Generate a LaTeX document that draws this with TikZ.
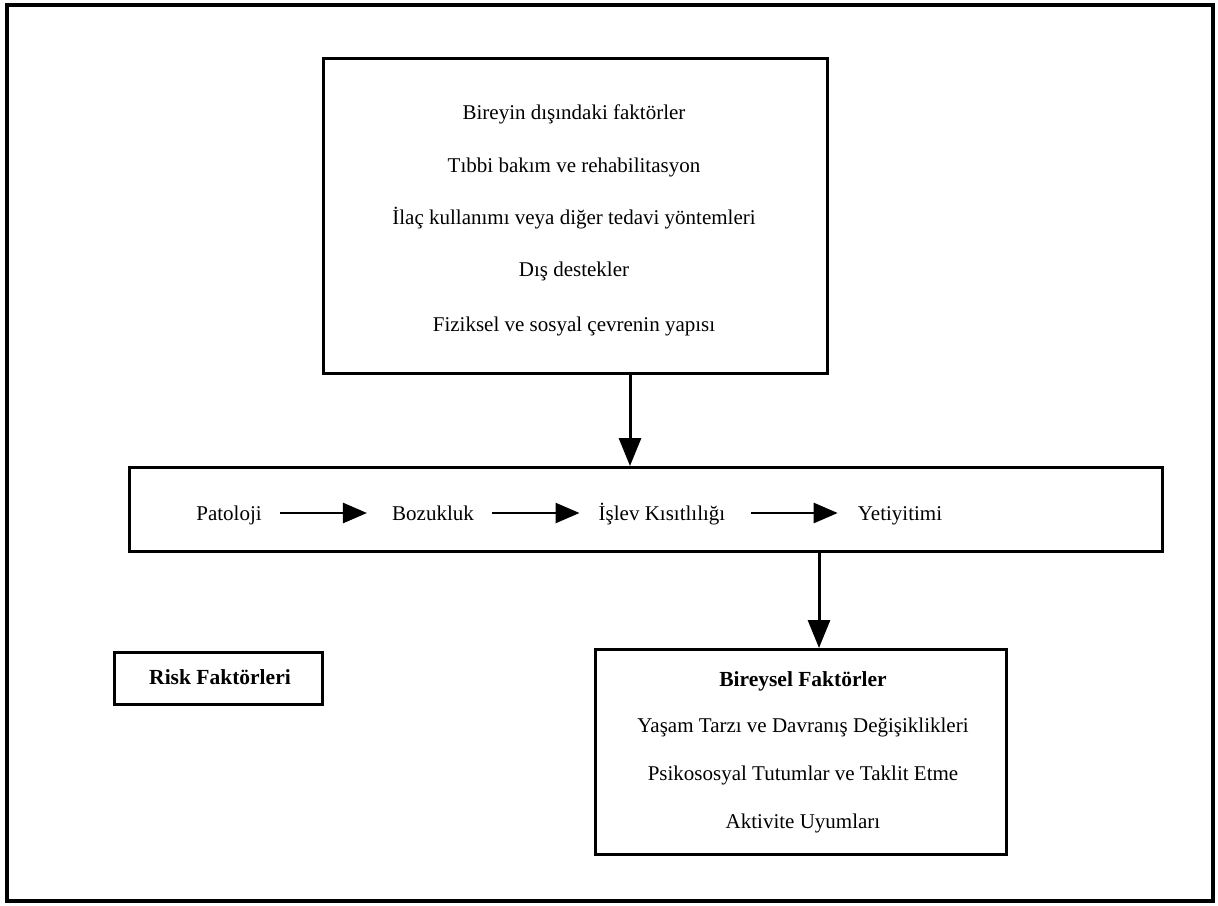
\documentclass[tikz,border=0pt]{standalone}
\usepackage{fontspec}
\setmainfont{Liberation Serif}
\usetikzlibrary{arrows.meta}
\begin{document}
\begin{tikzpicture}[x=1pt,y=-1pt,
  box/.style={draw,line width=2.8pt,inner sep=0pt,anchor=north west},
  txt/.style={font=\fontsize{21}{24}\selectfont,inner sep=0pt,text height=18pt,text depth=4pt},
  btxt/.style={font=\fontsize{21.5}{24}\selectfont\bfseries,inner sep=0pt,text height=18pt,text depth=4pt},
  arr/.style={line width=3pt,-{Triangle[length=28pt,width=22pt]}},
  harr/.style={line width=2.6pt,-{Triangle[length=24pt,width=20pt]}}]
\useasboundingbox (0,0) rectangle (1218,905);
\draw[line width=3.4pt] (7,5) rectangle (1213,901);
% top box
\node[box,minimum width=504pt,minimum height=315pt] (top) at (322,57) {};
\node[txt] (t1) at (574,112) {Bireyin dışındaki faktörler};
\node[txt] (t2) at (574,165) {Tıbbi bakım ve rehabilitasyon};
\node[txt] (t3) at (574,217) {İlaç kullanımı veya diğer tedavi yöntemleri};
\node[txt] (t4) at (574,269) {Dış destekler};
\node[txt] (t5) at (574,324) {Fiziksel ve sosyal çevrenin yapısı};
% middle box
\node[box,minimum width=1033pt,minimum height=84pt] (mid) at (128,466) {};
\node[txt] (p1) at (229,513) {Patoloji};
\node[txt] (p2) at (433,513) {Bozukluk};
\node[txt] (p3) at (662,513) {İşlev Kısıtlılığı};
\node[txt] (p4) at (900,513) {Yetiyitimi};
\draw[harr,shorten <=18pt,shorten >=25pt] (p1.east) -- (p2.west);
\draw[harr,shorten <=18pt,shorten >=19pt] (p2.east) -- (p3.west);
\draw[harr,shorten <=25pt,shorten >=20pt] (p3.east) -- (p4.west);
% connectors
\coordinate (c1) at (630,0);
\coordinate (c2) at (819,0);
\draw[arr] (top.south -| c1) -- (mid.north -| c1);
% risk box
\node[box,minimum width=208pt,minimum height=52pt] (risk) at (113,651) {};
\node[btxt] (r1) at (220,677) {Risk Faktörleri};
% bireysel box
\node[box,minimum width=411pt,minimum height=205pt] (bir) at (594,648) {};
\draw[arr] (mid.south -| c2) -- (bir.north -| c2);
\node[btxt] (b1) at (803,679) {Bireysel Faktörler};
\node[txt] (b2) at (803,725) {Yaşam Tarzı ve Davranış Değişiklikleri};
\node[txt] (b3) at (803,773) {Psikososyal Tutumlar ve Taklit Etme};
\node[txt] (b4) at (803,821) {Aktivite Uyumları};
\end{tikzpicture}
\end{document}
